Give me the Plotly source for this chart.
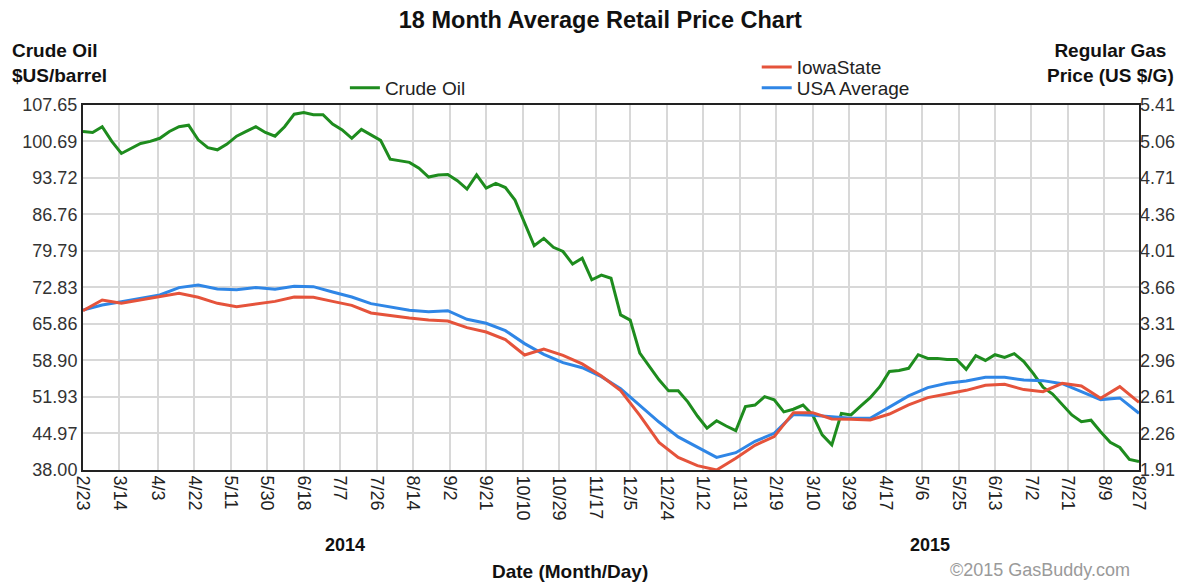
import plotly.graph_objects as go
import pandas as pd

# crude oil ($/barrel), one reading every 5 days from 2014-02-23
CRUDE_START = "2014-02-23"
crude_oil = [
    102.6, 102.4, 103.5, 100.7, 98.4, 99.3, 100.3, 100.7, 101.3, 102.6,
    103.5, 103.8, 101.0, 99.5, 99.1, 100.2, 101.7, 102.6, 103.5, 102.4,
    101.7, 103.5, 105.9, 106.2, 105.8, 105.8, 104.0, 102.9, 101.3, 103.0,
    101.9, 100.9, 97.3, 97.0, 96.7, 95.6, 93.9, 94.3, 94.4, 93.2,
    91.6, 94.3, 91.8, 92.7, 91.9, 89.5, 85.0, 80.8, 82.2, 80.5,
    79.7, 77.3, 78.4, 74.3, 75.2, 74.6, 67.6, 66.6, 60.3, 57.7,
    55.2, 53.1, 53.1, 51.0, 48.3, 46.0, 47.4, 46.4, 45.5, 50.1,
    50.4, 52.0, 51.4, 49.1, 49.6, 50.4, 48.5, 44.7, 42.8, 48.8,
    48.5, 50.2, 51.8, 53.9, 56.8, 57.0, 57.4, 60.0, 59.3, 59.3,
    59.1, 59.1, 57.2, 59.8, 58.9, 60.0, 59.5, 60.2, 58.7, 56.4,
    53.8, 52.5, 50.6, 48.5, 47.2, 47.5, 45.3, 43.3, 42.3, 40.0,
    39.6,
]

# regular gas ($/gallon), one reading every 10 days from 2014-02-23
GAS_START = "2014-02-23"
usa_average = [
    3.444, 3.492, 3.524, 3.556, 3.588, 3.659, 3.684, 3.646, 3.639, 3.659,
    3.643, 3.671, 3.668, 3.617, 3.569, 3.505, 3.476, 3.441, 3.428, 3.438,
    3.355, 3.317, 3.246, 3.122, 3.019, 2.939, 2.891, 2.805, 2.690, 2.530,
    2.370, 2.227, 2.127, 2.031, 2.076, 2.185, 2.262, 2.441, 2.434, 2.422,
    2.406, 2.406, 2.514, 2.620, 2.700, 2.741, 2.764, 2.799, 2.799, 2.773,
    2.767, 2.738, 2.661, 2.585, 2.601, 2.454,
]
iowa_state = [
    3.438, 3.540, 3.508, 3.540, 3.579, 3.604, 3.566, 3.508, 3.476, 3.505,
    3.527, 3.569, 3.566, 3.527, 3.489, 3.416, 3.390, 3.368, 3.349, 3.339,
    3.275, 3.233, 3.160, 3.013, 3.070, 3.009, 2.927, 2.811, 2.671, 2.434,
    2.175, 2.031, 1.952, 1.910, 2.022, 2.147, 2.230, 2.460, 2.460, 2.399,
    2.396, 2.390, 2.447, 2.534, 2.604, 2.639, 2.674, 2.722, 2.732, 2.681,
    2.661, 2.741, 2.716, 2.598, 2.709, 2.559,
]

tick_dates = [
    "2014-02-23", "2014-03-14", "2014-04-03", "2014-04-22", "2014-05-11",
    "2014-05-30", "2014-06-18", "2014-07-07", "2014-07-26", "2014-08-14",
    "2014-09-02", "2014-09-21", "2014-10-10", "2014-10-29", "2014-11-17",
    "2014-12-05", "2014-12-24", "2015-01-12", "2015-01-31", "2015-02-19",
    "2015-03-10", "2015-03-29", "2015-04-17", "2015-05-06", "2015-05-25",
    "2015-06-13", "2015-07-02", "2015-07-21", "2015-08-09", "2015-08-27",
]
tick_labels = [
    "2/23", "3/14", "4/3", "4/22", "5/11", "5/30", "6/18", "7/7", "7/26", "8/14",
    "9/2", "9/21", "10/10", "10/29", "11/17", "12/5", "12/24", "1/12", "1/31", "2/19",
    "3/10", "3/29", "4/17", "5/6", "5/25", "6/13", "7/2", "7/21", "8/9", "8/27",
]
crude_ticks = [38.00, 44.97, 51.93, 58.90, 65.86, 72.83, 79.79, 86.76, 93.72, 100.69, 107.65]
gas_ticks = [1.91, 2.26, 2.61, 2.96, 3.31, 3.66, 4.01, 4.36, 4.71, 5.06, 5.41]

FONT = "Liberation Sans, Arial, sans-serif"
GREEN = "#1E8C1E"
RED = "#E5533B"
BLUE = "#2F86E6"

crude_dates = pd.date_range(CRUDE_START, periods=len(crude_oil), freq="5D")
gas_dates = pd.date_range(GAS_START, periods=len(usa_average), freq="10D")

fig = go.Figure()

fig.add_trace(go.Scatter(
    x=gas_dates, y=usa_average, name="USA Average", yaxis="y2",
    mode="lines", line=dict(color=BLUE, width=3), legend="legend3"
))
fig.add_trace(go.Scatter(
    x=gas_dates, y=iowa_state, name="IowaState", yaxis="y2",
    mode="lines", line=dict(color=RED, width=3), legend="legend2"
))
fig.add_trace(go.Scatter(
    x=crude_dates, y=crude_oil, name="Crude Oil",
    mode="lines", line=dict(color=GREEN, width=3), legend="legend"
))

legend_style = dict(xanchor="left", yanchor="middle", bgcolor="rgba(0,0,0,0)",
                    font=dict(size=19, color="#222"))

# the page body has an 8px margin, so the figure is 8px smaller than the window
fig.update_layout(
    width=1180, height=574,
    margin=dict(l=75, r=49, t=97, b=112),
    paper_bgcolor="white", plot_bgcolor="white",
    font=dict(family=FONT, size=17, color="#222"),
    title=dict(text="<b>18 Month Average Retail Price Chart</b>", x=0.502, xanchor="center",
               y=0.979, yanchor="middle", font=dict(size=23.5, color="#111")),
    xaxis=dict(
        type="date", range=[tick_dates[0], tick_dates[-1]],
        tickmode="array", tickvals=tick_dates, ticktext=tick_labels, tickangle=90,
        showgrid=True, gridcolor="#d8d8d8", gridwidth=2,
        showline=True, linecolor="#222", linewidth=2, mirror=True,
        ticks="", tickfont=dict(size=18, color="#222"),
    ),
    yaxis=dict(
        range=[38, 107.65], tickmode="array", tickvals=crude_ticks,
        ticktext=[f"{v:.2f}" for v in crude_ticks],
        showgrid=True, gridcolor="#d8d8d8", gridwidth=2, zeroline=False,
        showline=True, linecolor="#222", linewidth=2, mirror=True,
        ticks="", tickfont=dict(size=18, color="#333")),
    yaxis2=dict(
        range=[1.91, 5.41], overlaying="y", side="right", tickmode="array",
        tickvals=gas_ticks, ticktext=[f"{v:.2f}" for v in gas_ticks],
        showgrid=False, zeroline=False, ticks="", tickfont=dict(size=18, color="#333"),
    ),
    legend=dict(x=0.248, y=1.047, **legend_style),
    legend2=dict(x=0.638, y=1.104, **legend_style),
    legend3=dict(x=0.638, y=1.047, **legend_style),
    showlegend=True,
)

# axis titles and footer text
notes = [
    ("<b>Crude Oil<br>$US/barrel</b>", -0.069, 1.115, "left", 19, "#111"),
    ("<b>Regular Gas<br>Price (US $/G)</b>", 0.973, 1.115, "center", 19, "#111"),
    ("<b>2014</b>", 0.248, -0.205, "center", 18, "#111"),
    ("<b>2015</b>", 0.802, -0.205, "center", 18, "#111"),
    ("<b>Date (Month/Day)</b>", 0.461, -0.279, "center", 19, "#111"),
    ("©2015 GasBuddy.com", 0.906, -0.274, "center", 18, "#9a9a9a"),
]
for text, x, y, anchor, size, colour in notes:
    fig.add_annotation(text=text, xref="paper", yref="paper", x=x, y=y,
                       xanchor=anchor, yanchor="middle", align=anchor,
                       showarrow=False, font=dict(size=size, color=colour))

fig.write_html("out.html")
